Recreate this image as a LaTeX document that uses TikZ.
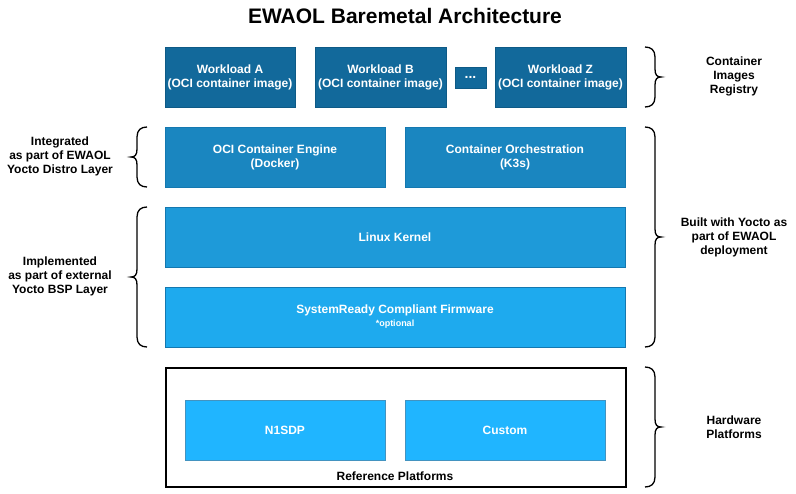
\documentclass[tikz,border=0pt]{standalone}
\usepackage{fontspec}
\setmainfont{Liberation Sans}
\definecolor{cW}{HTML}{12699B}
\definecolor{cWb}{HTML}{0E5A86}
\definecolor{cO}{HTML}{1A86C0}
\definecolor{cL}{HTML}{1E9AD9}
\definecolor{cS}{HTML}{1EAAEE}
\definecolor{cN}{HTML}{20B5FF}
\definecolor{cB}{HTML}{1478B0}
\newcommand{\cbrace}[4]{%
\begin{scope}[shift={(#1,0)},xscale=#4]
\draw[bracestyle] (10,#2) .. controls (4,#2) and (0,#2+3) .. (0,#2+10)
 -- (0,{(#2+#3)/2-8}) .. controls (0,{(#2+#3)/2-2}) and (-2,{(#2+#3)/2}) .. (-6,{(#2+#3)/2})
 .. controls (-2,{(#2+#3)/2}) and (0,{(#2+#3)/2+2}) .. (0,{(#2+#3)/2+8})
 -- (0,#3-10) .. controls (0,#3-3) and (4,#3) .. (10,#3);
\end{scope}}
\begin{document}
\begin{tikzpicture}[x=1pt,y=-1pt,
  box/.style={draw=cB,line width=0.8pt,text=white,font=\fontsize{12}{14}\selectfont\bfseries,align=center,inner sep=0pt,minimum height=60pt},
  bracestyle/.style={draw=black,line width=1.3pt},
  lbl/.style={font=\fontsize{12}{14}\selectfont\bfseries,align=center,text=black}]
\useasboundingbox (0,0) rectangle (796,494);
\node[font=\fontsize{21}{24}\selectfont\bfseries] (title) at (405,16) {EWAOL Baremetal Architecture};
\node[box,fill=cW,draw=cWb,minimum width=130pt] (wa) at (230,77) {Workload A\\(OCI container image)};
\node[box,fill=cW,draw=cWb,minimum width=131pt] (wb) at (380.5,77) {Workload B\\(OCI container image)};
\node[box,fill=cW,draw=cWb,minimum width=31pt,minimum height=21pt,font=\fontsize{14}{14}\selectfont\bfseries] (dots) at (470.5,77.5) {...};
\node[box,fill=cW,draw=cWb,minimum width=131pt] (wz) at (560.5,77) {Workload Z\\(OCI container image)};
\node[box,fill=cO,minimum width=220pt] (oci) at (275,157) {OCI Container Engine\\(Docker)};
\node[box,fill=cO,minimum width=220pt] (orch) at (515,157) {Container Orchestration\\(K3s)};
\node[box,fill=cL,minimum width=460pt] (lk) at (395,237) {Linux Kernel};
\node[box,fill=cS,minimum width=460pt] (sr) at (395,317) {SystemReady Compliant Firmware\\[-1pt]{\fontsize{9}{11}\selectfont *optional}};
\node[draw=black,line width=2pt,minimum width=460pt,minimum height=119pt,inner sep=0pt] (rp) at (395.5,427.5) {};
\node[box,fill=cN,draw=cB!80,minimum width=200pt] (n1) at (285,430) {N1SDP};
\node[box,fill=cN,draw=cB!80,minimum width=200pt] (cu) at (505,430) {Custom};
\node[lbl] (rpl) at (395,476) {Reference Platforms};
\cbrace{137}{127}{187}{1}
\cbrace{137}{207}{347}{1}
\cbrace{655}{47}{107}{-1}
\cbrace{655}{127}{347}{-1}
\cbrace{655}{367}{487}{-1}
\node[lbl] (l1) at (60,156) {Integrated\\as part of EWAOL\\Yocto Distro Layer};
\node[lbl] (l2) at (60,276) {Implemented\\as part of external\\Yocto BSP Layer};
\node[lbl] (r1) at (734,76) {Container\\Images\\Registry};
\node[lbl] (r2) at (734,237) {Built with Yocto as\\part of EWAOL\\deployment};
\node[lbl] (r3) at (734,427) {Hardware\\Platforms};
\end{tikzpicture}
\end{document}
